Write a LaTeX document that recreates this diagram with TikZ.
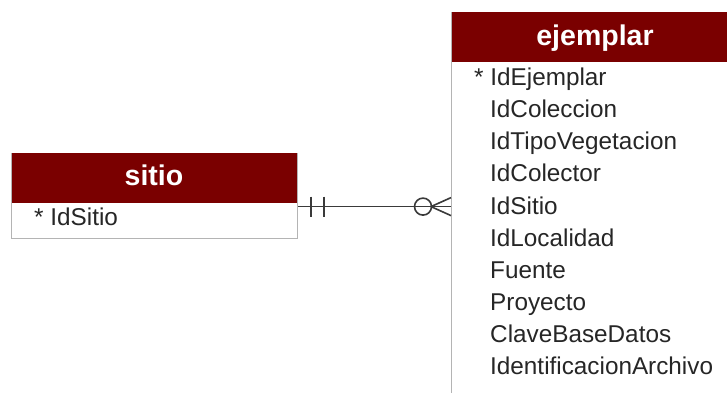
\documentclass[tikz,border=0pt]{standalone}
\usepackage{fontspec}
\setmainfont{Liberation Sans}
\usetikzlibrary{calc}
\definecolor{hdr}{HTML}{7A0000}
\definecolor{bord}{HTML}{B4B4B4}
\definecolor{txt}{HTML}{262626}
\definecolor{lnk}{HTML}{3A3A3A}
\begin{document}
\begin{tikzpicture}[x=1pt,y=-1pt,
  body/.style={draw=bord,line width=1.2pt,fill=white,rectangle,inner sep=0pt,anchor=north west},
  head/.style={fill=hdr,draw=none,rectangle,inner sep=0pt,anchor=north west},
  ttl/.style={text=white,font=\fontsize{28.5}{30}\selectfont\bfseries,anchor=base,inner sep=0pt},
  attr/.style={text=txt,font=\fontsize{24.3}{26}\selectfont,anchor=base west,inner sep=0pt},
  rel/.style={draw=lnk,line width=1.6pt}]
\useasboundingbox (0,0) rectangle (727,392);
\clip (0,0) rectangle (727,392);
\fill[white] (0,0) rectangle (727,392);
% sitio
\node[body,minimum width=286pt,minimum height=85pt] (sitio) at (11,153) {};
\node[head,minimum width=285pt,minimum height=50pt] (sitiohead) at (11.5,153) {};
\node[ttl] (sitiot) at (154,185) {sitio};
\node[attr] (sa1) at (34,225) {* IdSitio};
% ejemplar
\node[body,minimum width=290pt,minimum height=420pt] (ejemplar) at (451,12) {};
\node[head,minimum width=290pt,minimum height=50pt] (ejhead) at (451.5,12) {};
\node[ttl] (ejt) at (595,45) {ejemplar};
\node[attr] (e1) at (474,85) {* IdEjemplar};
\node[attr] (e2) at (490,117) {IdColeccion};
\node[attr] (e3) at (490,149.5) {IdTipoVegetacion};
\node[attr] (e4) at (490,181.5) {IdColector};
\node[attr] (e5) at (490,214) {IdSitio};
\node[attr] (e6) at (490,246) {IdLocalidad};
\node[attr] (e7) at (490,278) {Fuente};
\node[attr] (e8) at (490,310) {Proyecto};
\node[attr] (e9) at (490,342) {ClaveBaseDatos};
\node[attr] (e10) at (490,374) {IdentificacionArchivo};
% relationship
\path (sitio.east) ++(0,10.5) coordinate (ls);
\coordinate (le) at (ejemplar.west |- ls);
\draw[rel] (ls) -- (le);
% one and only one
\draw[rel] ($(ls)+(13,-10)$) -- ++(0,20);
\draw[rel] ($(ls)+(26,-10)$) -- ++(0,20);
% zero or many
\draw[rel] ($(le)+(-28,0)$) circle (8.5);
\draw[rel] ($(le)+(-20,0)$) -- ($(le)+(0,-9)$);
\draw[rel] ($(le)+(-20,0)$) -- ($(le)+(0,9)$);
\end{tikzpicture}
\end{document}
